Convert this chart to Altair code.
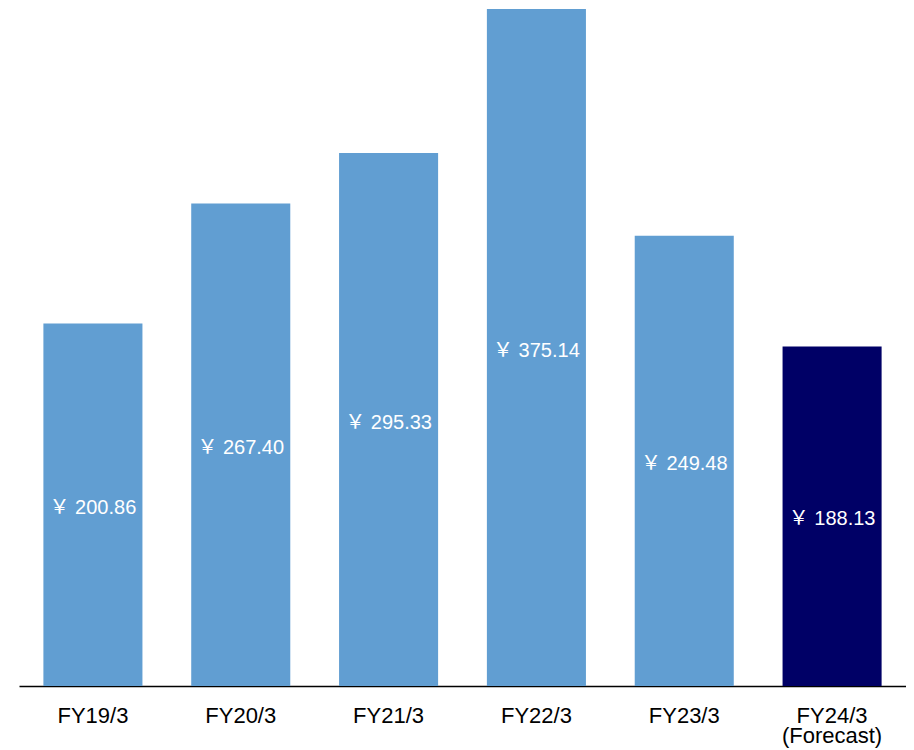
import altair as alt
import pandas as pd

categories = ["FY19/3", "FY20/3", "FY21/3", "FY22/3", "FY23/3", "FY24/3\n(Forecast)"]
values = [200.86, 267.40, 295.33, 375.14, 249.48, 188.13]
kinds = ["Actual", "Actual", "Actual", "Actual", "Actual", "Forecast"]
labels = ["￥ 200.86", "￥ 267.40", "￥ 295.33", "￥ 375.14", "￥ 249.48", "￥ 188.13"]

df = pd.DataFrame({"cat": categories, "value": values, "kind": kinds, "label": labels})
df["mid"] = df["value"] / 2

FONT = "Liberation Sans, Arial, Noto Sans CJK JP"

x = alt.X(
    "cat:N",
    sort=categories,
    title=None,
    scale=alt.Scale(paddingInner=0.33, paddingOuter=0.165),
    axis=alt.Axis(
        labelAngle=0,
        labelFontSize=22,
        labelFont=FONT,
        labelColor="#000000",
        labelPadding=19,
        labelLineHeight=20,
        labelBaseline="top",
        labelExpr="split(datum.label, '\\n')",
        ticks=False,
        domainColor="#000000",
        domainWidth=1.5,
        grid=False,
    ),
)

bars = alt.Chart(df).mark_bar().encode(
    x=x,
    y=alt.Y("value:Q", scale=alt.Scale(domain=[0, 375.14], nice=False), axis=None),
    color=alt.Color(
        "kind:N",
        scale=alt.Scale(domain=["Actual", "Forecast"], range=["#619ED2", "#000066"]),
        legend=None,
    ),
)

text = alt.Chart(df).mark_text(
    color="white", fontSize=20, font=FONT, baseline="middle", align="center", dy=3
).encode(
    x=alt.X("cat:N", sort=categories),
    y=alt.Y("mid:Q"),
    text="label:N",
)

chart = (
    alt.layer(bars, text)
    .properties(
        width=887,
        height=677,
        autosize=alt.AutoSizeParams(type="none"),
        padding={"left": 11, "top": 1, "right": 0, "bottom": 62},
    )
    .configure_view(stroke=None)
)

chart.save("out.html", embed_options={"renderer": "svg", "actions": False})
